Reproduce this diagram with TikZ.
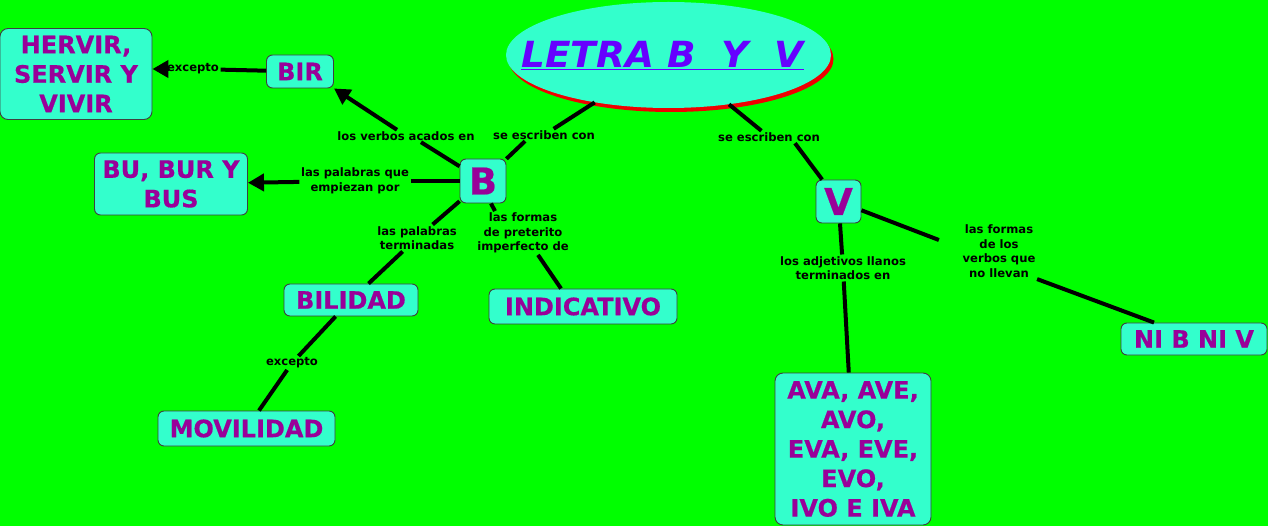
\documentclass[tikz,border=0pt]{standalone}
\usepackage{fontspec}
\setmainfont{DejaVu Sans}[ItalicFont={DejaVu Sans Oblique},BoldFont={DejaVu Sans Bold},BoldItalicFont={DejaVu Sans Bold Oblique}]
\newfontfamily\heavyfont{DejaVu Sans Bold}[FakeBold=0.5]
\newfontfamily\heavyital{DejaVu Sans Bold Oblique}[FakeStretch=1.04]
\usetikzlibrary{arrows.meta,shapes.geometric}
\definecolor{bg}{RGB}{0,255,0}
\definecolor{boxfill}{RGB}{51,255,204}
\definecolor{boxtext}{RGB}{153,0,153}
\definecolor{ttlcol}{RGB}{102,0,255}
\definecolor{shadowred}{RGB}{240,0,0}
\begin{document}
\begin{tikzpicture}[x=1pt,y=-1pt,
  cbox/.style={draw=black!75, line width=0.9pt, fill=boxfill, rounded corners=6pt,
    text=boxtext, font=\heavyfont\fontsize{24}{29.5}\selectfont, align=center, inner sep=0pt},
  bigbox/.style={cbox, font=\heavyfont\fontsize{37}{40}\selectfont},
  lbl/.style={font=\bfseries\fontsize{11.6}{14.6}\selectfont, align=center, inner sep=1.5pt, text=black},
  conn/.style={line width=4pt, black},
  arr/.style={conn, -{Triangle[length=16pt,width=17pt]}},
  ttlfont/.style={font=\heavyital\fontsize{36}{40}\selectfont, text=ttlcol, inner sep=0pt}]
\fill[bg] (0,0) rectangle (1268,526);
\useasboundingbox (0,0) rectangle (1268,526);

% title
\fill[shadowred] (671,59) ellipse [x radius=162.5pt, y radius=53pt];
\node[ellipse, fill=boxfill, minimum width=325pt, minimum height=106pt, inner sep=0pt] (title) at (668.5,55) {};
\node[ttlfont] (ttltext) at (662.5,54.5) {LETRA B\ \ Y\ \ V};
\draw[ttlcol, line width=1.2pt] ([yshift=-2pt]ttltext.base west) -- ([yshift=-2pt]ttltext.base east);

% boxes
\node[cbox, rounded corners=8pt, minimum width=152pt, minimum height=91pt] (hervir) at (76,74) {HERVIR,\\SERVIR Y\\VIVIR};
\node[cbox, minimum width=67pt, minimum height=33pt] (bir) at (300,71.5) {BIR};
\node[bigbox, minimum width=46pt, minimum height=44pt] (B) at (483,181) {B};
\node[cbox, minimum width=153pt, minimum height=62pt] (bu) at (171,184) {BU, BUR Y\\BUS};
\node[cbox, minimum width=134pt, minimum height=32pt] (bilidad) at (351,300) {BILIDAD};
\node[cbox, minimum width=188pt, minimum height=35pt] (indicativo) at (583,306.5) {INDICATIVO};
\node[cbox, minimum width=177pt, minimum height=35pt] (movilidad) at (246.5,428.5) {MOVILIDAD};
\node[bigbox, minimum width=45pt, minimum height=43pt] (V) at (838.5,201.5) {V};
\node[cbox, rounded corners=8pt, minimum width=156pt, minimum height=152pt] (ava) at (853,449) {AVA, AVE,\\AVO,\\EVA, EVE,\\EVO,\\IVO E IVA};
\node[cbox, minimum width=146pt, minimum height=32pt] (nibniv) at (1194,339) {NI B NI V};

% labels
\node[lbl] (l1) at (544,135) {se escriben con};
\node[lbl] (l2) at (769,137) {se escriben con};
\node[lbl] (l3) at (406,136) {los verbos acados en};
\node[lbl] (l4) at (193,69) {excepto};
\node[lbl] (l5) at (355,181) {las palabras que\\empiezan por};
\node[lbl] (l6) at (417,238) {las palabras\\terminadas};
\node[lbl] (l7) at (523,233) {las formas\\de preterito\\imperfecto de};
\node[lbl] (l8) at (292,363) {excepto};
\node[lbl] (l9) at (843,268) {los adjetivos llanos\\terminados en};
\node[lbl] (l10) at (999,251) {las formas\\de los\\verbos que\\no llevan};

% connectors
\draw[conn] (title) -- (l1);
\draw[conn] ([xshift=-19pt]l1.south) -- (B);
\draw[conn] (title) -- (l2);
\draw[conn] ([xshift=26pt]l2.south) -- (V);
\draw[conn] (B) -- ([xshift=15pt]l3.south);
\draw[arr] ([xshift=-9pt]l3.north) -- (bir.south east);
\draw[conn] (bir) -- (l4);
\draw[arr] ([xshift=4pt]l4.west) -- (l4.west -| hervir.east);
\draw[conn] (B) -- (l5);
\draw[arr] (l5) -- (bu);
\draw[conn] (B) -- (l6);
\draw[conn] (l6) -- (bilidad);
\draw[conn] ([xshift=8pt]B.south) -- ([xshift=-28pt]l7.north);
\draw[conn] ([xshift=15pt]l7.south) -- ([xshift=-22pt]indicativo.north);
\draw[conn] (bilidad) -- (l8);
\draw[conn] (l8) -- (movilidad);
\draw[conn] (V) -- (l9);
\draw[conn] (l9) -- (ava);
\draw[conn] (V) -- ([xshift=-22pt,yshift=11pt]l10.west);
\draw[conn] (l10.south east) -- ([xshift=-40pt]nibniv.north);
\end{tikzpicture}
\end{document}
